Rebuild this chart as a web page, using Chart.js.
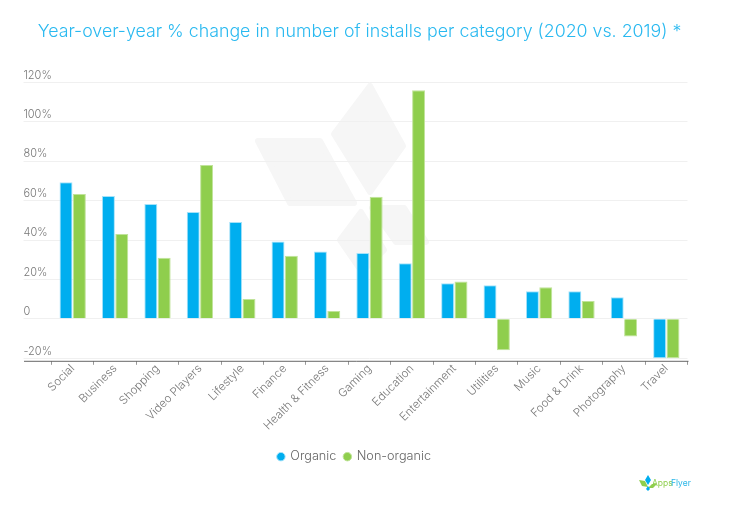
<!DOCTYPE html>
<html>
<head>
<meta charset="utf-8">
<title>Installs per category</title>
<script src="https://cdn.jsdelivr.net/npm/chart.js@4"></script>
<style>
html, body { margin: 0; padding: 0; background: #fff; }
#wrap { position: relative; width: 740px; height: 513px; }
</style>
</head>
<body>
<div id="wrap"><canvas id="installsChart" width="740" height="513"></canvas></div>
<script>
var categories = ['Social', 'Business', 'Shopping', 'Video Players', 'Lifestyle', 'Finance', 'Health & Fitness', 'Gaming',
    'Education', 'Entertainment', 'Utilities', 'Music', 'Food & Drink', 'Photography', 'Travel'];
var organic = [69.3, 62.3, 58.3, 54.2, 49.2, 39.3, 34.2, 33.4, 28.2, 18, 17, 14, 14, 11, -20];
var nonOrganic = [63.3, 43, 31, 78, 10, 32, 4, 62, 116, 19, -16, 16, 9, -9, -20];
var yTicks = [-20, 0, 20, 40, 60, 80, 100, 120];

var fontName = 'Inter, "Open Sans", sans-serif';

function shape(ctx, pts, rounded) {
    ctx.beginPath();
    pts.forEach(function (p, i) {
        if (i === 0) ctx.moveTo(p[0], p[1]); else ctx.lineTo(p[0], p[1]);
    });
    ctx.closePath();
    ctx.fill();
    if (rounded) ctx.stroke();
}

// watermark behind the bars, logo bottom right, axis line running under the y labels
var decoration = {
    id: 'decoration',
    afterLayout: function (chart) {
        chart.titleBlock.left += 4;
        chart.titleBlock.right += 4;
        chart.legend.left -= 1;
        chart.legend.right -= 1;
        chart.legend.top -= 40;
        chart.legend.bottom -= 40;
    },
    beforeDraw: function (chart) {
        var ctx = chart.ctx;
        ctx.save();
        ctx.fillStyle = '#f6f6f6';
        ctx.strokeStyle = '#f6f6f6';
        ctx.lineWidth = 6;
        ctx.lineJoin = 'round';
        shape(ctx, [[258, 141], [320, 141], [354, 203], [290, 203]], true);
        shape(ctx, [[370, 86], [403, 146], [370, 192], [334, 134]], true);
        shape(ctx, [[340, 240], [361, 212], [384, 250], [362, 272]], true);
        shape(ctx, [[372, 208], [404, 208], [426, 242], [396, 242]], true);
        ctx.restore();
    },
    afterDraw: function (chart) {
        var ctx = chart.ctx;
        var area = chart.chartArea;
        ctx.save();
        ctx.strokeStyle = '#666666';
        ctx.lineWidth = 1;
        ctx.beginPath();
        ctx.moveTo(24, area.bottom + 0.5);
        ctx.lineTo(area.right + 1, area.bottom + 0.5);
        ctx.stroke();

        ctx.fillStyle = '#8fce4d';
        shape(ctx, [[639, 480], [645, 481], [648, 487], [642, 486]]);
        shape(ctx, [[648, 488], [652, 484], [657, 484], [653, 488]]);
        ctx.fillStyle = '#00aeef';
        shape(ctx, [[648, 475], [651, 480], [648, 485], [645, 480]]);
        shape(ctx, [[648, 486], [650, 489], [648, 491], [646, 489]]);
        ctx.font = '8.5px ' + fontName;
        ctx.textBaseline = 'middle';
        ctx.fillStyle = '#8fce4d';
        ctx.fillText('Apps', 652, 483);
        ctx.fillStyle = '#29b6e8';
        ctx.fillText('Flyer', 671, 483);
        ctx.restore();
    }
};

var ctx = document.getElementById('installsChart').getContext('2d');
var installsChart = new Chart(ctx, {
    type: 'bar',
    plugins: [decoration],
    data: {
        labels: categories,
        datasets: [{
            label: 'Organic',
            data: organic,
            backgroundColor: '#00aeef',
            borderColor: '#a5e2f9',
            borderWidth: 1,
            categoryPercentage: 0.63,
            barPercentage: 0.97
        }, {
            label: 'Non-organic',
            data: nonOrganic,
            backgroundColor: '#8fce4d',
            borderColor: '#c0e39a',
            borderWidth: 1,
            categoryPercentage: 0.63,
            barPercentage: 0.97
        }]
    },
    options: {
        responsive: false,
        animation: false,
        layout: { padding: { left: 23.5, right: 52.5, top: 0, bottom: 0 } },
        plugins: {
            title: {
                display: true,
                text: 'Year-over-year % change in number of installs per category (2020 vs. 2019) *',
                color: '#29b9f0',
                font: { family: fontName, size: 17.8, weight: '300' },
                padding: { top: 21, bottom: 40 }
            },
            legend: {
                position: 'bottom',
                labels: {
                    usePointStyle: true,
                    pointStyle: 'circle',
                    boxWidth: 6,
                    boxHeight: 6,
                    padding: 8,
                    color: '#666666',
                    font: { family: fontName, size: 12.7, weight: '300' }
                }
            },
            tooltip: { enabled: false }
        },
        scales: {
            x: {
                grid: { drawOnChartArea: false, tickLength: 4, tickColor: '#999999', offset: true },
                border: { display: false },
                ticks: {
                    minRotation: 45,
                    maxRotation: 45,
                    autoSkip: false,
                    padding: -3,
                    color: '#777777',
                    font: { family: fontName, size: 11.5, weight: '300' }
                },
                afterFit: function (scale) { scale.height = 121.5; }
            },
            y: {
                min: -21.3,
                max: 120,
                afterBuildTicks: function (scale) {
                    scale.ticks = yTicks.map(function (v) { return { value: v }; });
                },
                afterFit: function (scale) { scale.width = 28; },
                grid: { color: '#f0f0f0', tickColor: '#f0f0f0', tickLength: 28 },
                border: { display: false },
                ticks: {
                    crossAlign: 'far',
                    padding: 0,
                    labelOffset: -7,
                    color: '#777777',
                    font: { family: fontName, size: 11, weight: '300' },
                    callback: function (v) { return v === 0 ? '0' : v + '%'; }
                }
            }
        }
    }
});
</script>
</body>
</html>
